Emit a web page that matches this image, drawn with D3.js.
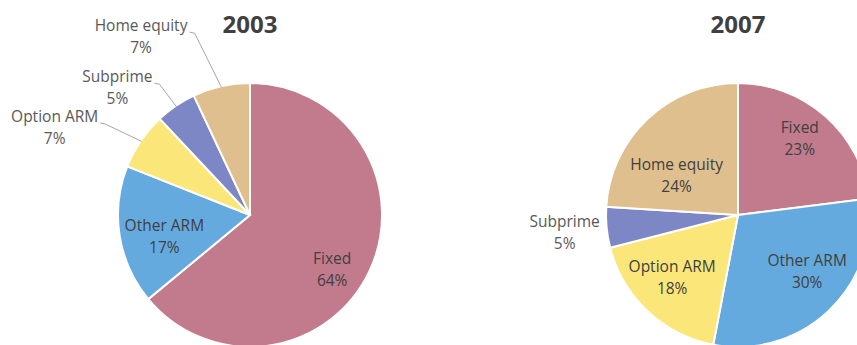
<!DOCTYPE html>
<html>
<head>
<meta charset="utf-8">
<script src="https://cdn.jsdelivr.net/npm/d3@7"></script>
<style>
  body { margin: 0; background: #fff; }
  text { font-family: "Open Sans", "Noto Sans", sans-serif; }
</style>
</head>
<body>
<div id="main"></div>
<script>
// --- data
const categories = ['Fixed', 'Other ARM', 'Option ARM', 'Subprime', 'Home equity'];
const years = ['2003', '2007'];
const shares2003 = [64, 17, 7, 5, 7];
const shares2007 = [23, 30, 18, 5, 24];
const colors = ['#c17b8d', '#65aadf', '#fbe679', '#7e87c6', '#dfbf8d'];

// --- layout (label placement: angle shift from slice middle in degrees, radius factor, outside?)
const labelLayout2003 = [
  { shift: 8.7, rf: 0.75, outside: false, leader: false },
  { shift: -5.4, rf: 0.67, outside: false, leader: false },
  { shift: -10.2, rf: 1.62, outside: true, leader: true },
  { shift: -12.1, rf: 1.39, outside: true, leader: true },
  { shift: -18.9, rf: 1.58, outside: true, leader: true }
];
const labelLayout2007 = [
  { shift: -2.2, rf: 0.74, outside: false, leader: false },
  { shift: -7.2, rf: 0.68, outside: false, leader: false },
  { shift: 3.1, rf: 0.69, outside: false, leader: false },
  { shift: -0.5, rf: 1.32, outside: true, leader: false },
  { shift: -14.6, rf: 0.55, outside: false, leader: false }
];

const width = 857, height = 345;
const radius = 132;
const lineGap = 22;

const svg = d3.select('#main')
  .append('svg')
  .attr('width', width)
  .attr('height', height);

const pie = d3.pie().sort(null).value(d => d.value);
const arc = d3.arc().innerRadius(0).outerRadius(radius);

function polar(angle, r) {
  return [Math.sin(angle) * r, -Math.cos(angle) * r];
}

function drawPie(cx, cy, year, values, layout) {
  const data = categories.map((c, i) => ({ name: c, value: values[i], color: colors[i] }));
  const g = svg.append('g').attr('transform', `translate(${cx}, ${cy})`);

  const arcs = pie(data);

  g.selectAll('path')
    .data(arcs)
    .enter()
    .append('path')
    .attr('d', arc)
    .attr('fill', d => d.data.color)
    .attr('stroke', '#fff')
    .attr('stroke-width', 2);

  // title
  svg.append('text')
    .attr('x', cx)
    .attr('y', 33)
    .attr('text-anchor', 'middle')
    .attr('font-size', 24)
    .attr('font-weight', 'bold')
    .attr('fill', '#404040')
    .text(year);

  arcs.forEach((d, i) => {
    const lay = layout[i];
    const mid = (d.startAngle + d.endAngle) / 2;
    const [lx, ly] = polar(mid + lay.shift * Math.PI / 180, radius * lay.rf);
    const fill = lay.outside ? '#595959' : '#404040';

    const t = g.append('text')
      .attr('text-anchor', 'middle')
      .attr('font-size', 15.5)
      .attr('fill', fill);
    t.append('tspan')
      .attr('x', lx)
      .attr('y', ly - lineGap / 2 + 5)
      .text(d.data.name);
    t.append('tspan')
      .attr('x', lx)
      .attr('y', ly + lineGap / 2 + 5)
      .text(d.data.value + '%');

    if (lay.leader) {
      const bb = t.node().firstChild.getBBox();
      const x0 = bb.x + bb.width + 2;
      const y0 = ly - lineGap / 2 + 6;
      const [ex, ey] = polar(mid, radius - 1);
      g.append('polyline')
        .attr('points', `${x0},${y0} ${x0 + 5},${y0 + 1} ${ex},${ey}`)
        .attr('fill', 'none')
        .attr('stroke', '#a6a6a6')
        .attr('stroke-width', 1);
    }
  });
}

drawPie(250, 215, years[0], shares2003, labelLayout2003);
drawPie(738, 215, years[1], shares2007, labelLayout2007);
</script>
</body>
</html>
